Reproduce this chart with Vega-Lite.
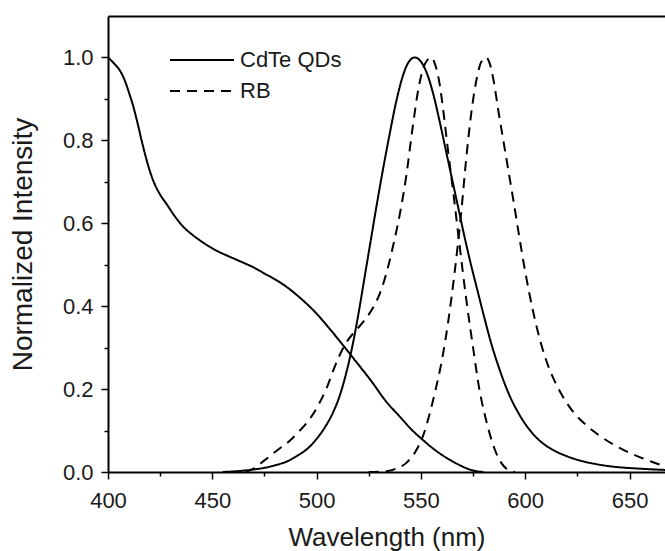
{
  "$schema": "https://vega.github.io/schema/vega-lite/v6.json",
  "width": 557,
  "height": 456,
  "autosize": {"type": "none"},
  "padding": {"left": 108, "top": 16, "right": 0, "bottom": 79},
  "background": "white",
  "config": {
    "view": {"stroke": null},
    "font": "Liberation Sans",
    "axis": {"domainColor": "black", "domainWidth": 2, "tickColor": "black", "tickWidth": 1.5, "labelColor": "#1a1a1a", "labelFont": "Liberation Sans", "labelFontSize": 22, "titleFont": "Liberation Sans", "titleFontWeight": "normal", "titleColor": "#1a1a1a", "titleFontSize": 28, "grid": false},
    "legend": {"orient": "none", "legendX": 77, "legendY": 27, "symbolType": "M-2,0H2", "symbolSize": 1024, "symbolStrokeWidth": 2, "symbolStrokeColor": "black", "symbolFillColor": "transparent", "labelFont": "Liberation Sans", "labelFontSize": 22, "labelColor": "#1a1a1a", "labelOffset": 21, "padding": 0, "rowPadding": 3, "titlePadding": 0}
  },
  "data": {"values": [
    {"curve":"QD abs","type":"CdTe QDs","wl":400,"v":1.0},
    {"curve":"QD abs","type":"CdTe QDs","wl":403,"v":0.985},
    {"curve":"QD abs","type":"CdTe QDs","wl":406,"v":0.966},
    {"curve":"QD abs","type":"CdTe QDs","wl":408,"v":0.945},
    {"curve":"QD abs","type":"CdTe QDs","wl":410,"v":0.916},
    {"curve":"QD abs","type":"CdTe QDs","wl":412,"v":0.884},
    {"curve":"QD abs","type":"CdTe QDs","wl":414,"v":0.845},
    {"curve":"QD abs","type":"CdTe QDs","wl":416,"v":0.802},
    {"curve":"QD abs","type":"CdTe QDs","wl":418,"v":0.762},
    {"curve":"QD abs","type":"CdTe QDs","wl":420,"v":0.727},
    {"curve":"QD abs","type":"CdTe QDs","wl":422,"v":0.699},
    {"curve":"QD abs","type":"CdTe QDs","wl":425,"v":0.669},
    {"curve":"QD abs","type":"CdTe QDs","wl":428,"v":0.647},
    {"curve":"QD abs","type":"CdTe QDs","wl":432,"v":0.617},
    {"curve":"QD abs","type":"CdTe QDs","wl":436,"v":0.592},
    {"curve":"QD abs","type":"CdTe QDs","wl":440,"v":0.574},
    {"curve":"QD abs","type":"CdTe QDs","wl":444,"v":0.559},
    {"curve":"QD abs","type":"CdTe QDs","wl":452,"v":0.534},
    {"curve":"QD abs","type":"CdTe QDs","wl":458,"v":0.52},
    {"curve":"QD abs","type":"CdTe QDs","wl":463,"v":0.509},
    {"curve":"QD abs","type":"CdTe QDs","wl":470,"v":0.493},
    {"curve":"QD abs","type":"CdTe QDs","wl":476,"v":0.476},
    {"curve":"QD abs","type":"CdTe QDs","wl":481,"v":0.462},
    {"curve":"QD abs","type":"CdTe QDs","wl":486,"v":0.445},
    {"curve":"QD abs","type":"CdTe QDs","wl":493,"v":0.416},
    {"curve":"QD abs","type":"CdTe QDs","wl":500,"v":0.382},
    {"curve":"QD abs","type":"CdTe QDs","wl":506,"v":0.347},
    {"curve":"QD abs","type":"CdTe QDs","wl":512,"v":0.31},
    {"curve":"QD abs","type":"CdTe QDs","wl":518,"v":0.272},
    {"curve":"QD abs","type":"CdTe QDs","wl":527,"v":0.214},
    {"curve":"QD abs","type":"CdTe QDs","wl":533,"v":0.172},
    {"curve":"QD abs","type":"CdTe QDs","wl":540,"v":0.133},
    {"curve":"QD abs","type":"CdTe QDs","wl":545,"v":0.105},
    {"curve":"QD abs","type":"CdTe QDs","wl":551,"v":0.077},
    {"curve":"QD abs","type":"CdTe QDs","wl":556,"v":0.056},
    {"curve":"QD abs","type":"CdTe QDs","wl":562,"v":0.035},
    {"curve":"QD abs","type":"CdTe QDs","wl":568,"v":0.018},
    {"curve":"QD abs","type":"CdTe QDs","wl":574,"v":0.005},
    {"curve":"QD abs","type":"CdTe QDs","wl":580,"v":0.0},

    {"curve":"QD PL","type":"CdTe QDs","wl":455,"v":0.0},
    {"curve":"QD PL","type":"CdTe QDs","wl":462,"v":0.002},
    {"curve":"QD PL","type":"CdTe QDs","wl":468,"v":0.005},
    {"curve":"QD PL","type":"CdTe QDs","wl":475,"v":0.01},
    {"curve":"QD PL","type":"CdTe QDs","wl":480,"v":0.016},
    {"curve":"QD PL","type":"CdTe QDs","wl":486,"v":0.026},
    {"curve":"QD PL","type":"CdTe QDs","wl":491,"v":0.04},
    {"curve":"QD PL","type":"CdTe QDs","wl":496,"v":0.058},
    {"curve":"QD PL","type":"CdTe QDs","wl":500,"v":0.08},
    {"curve":"QD PL","type":"CdTe QDs","wl":504,"v":0.108},
    {"curve":"QD PL","type":"CdTe QDs","wl":508,"v":0.145},
    {"curve":"QD PL","type":"CdTe QDs","wl":511,"v":0.183},
    {"curve":"QD PL","type":"CdTe QDs","wl":514,"v":0.235},
    {"curve":"QD PL","type":"CdTe QDs","wl":517,"v":0.3},
    {"curve":"QD PL","type":"CdTe QDs","wl":520,"v":0.38},
    {"curve":"QD PL","type":"CdTe QDs","wl":523,"v":0.47},
    {"curve":"QD PL","type":"CdTe QDs","wl":526,"v":0.56},
    {"curve":"QD PL","type":"CdTe QDs","wl":529,"v":0.65},
    {"curve":"QD PL","type":"CdTe QDs","wl":532,"v":0.735},
    {"curve":"QD PL","type":"CdTe QDs","wl":535,"v":0.815},
    {"curve":"QD PL","type":"CdTe QDs","wl":538,"v":0.89},
    {"curve":"QD PL","type":"CdTe QDs","wl":541,"v":0.95},
    {"curve":"QD PL","type":"CdTe QDs","wl":544,"v":0.988},
    {"curve":"QD PL","type":"CdTe QDs","wl":547,"v":1.0},
    {"curve":"QD PL","type":"CdTe QDs","wl":550,"v":0.99},
    {"curve":"QD PL","type":"CdTe QDs","wl":553,"v":0.96},
    {"curve":"QD PL","type":"CdTe QDs","wl":556,"v":0.91},
    {"curve":"QD PL","type":"CdTe QDs","wl":559,"v":0.845},
    {"curve":"QD PL","type":"CdTe QDs","wl":562,"v":0.775},
    {"curve":"QD PL","type":"CdTe QDs","wl":565,"v":0.705},
    {"curve":"QD PL","type":"CdTe QDs","wl":568,"v":0.635},
    {"curve":"QD PL","type":"CdTe QDs","wl":571,"v":0.565},
    {"curve":"QD PL","type":"CdTe QDs","wl":574,"v":0.5},
    {"curve":"QD PL","type":"CdTe QDs","wl":577,"v":0.44},
    {"curve":"QD PL","type":"CdTe QDs","wl":580,"v":0.38},
    {"curve":"QD PL","type":"CdTe QDs","wl":584,"v":0.305},
    {"curve":"QD PL","type":"CdTe QDs","wl":588,"v":0.243},
    {"curve":"QD PL","type":"CdTe QDs","wl":592,"v":0.19},
    {"curve":"QD PL","type":"CdTe QDs","wl":597,"v":0.14},
    {"curve":"QD PL","type":"CdTe QDs","wl":603,"v":0.096},
    {"curve":"QD PL","type":"CdTe QDs","wl":608,"v":0.071},
    {"curve":"QD PL","type":"CdTe QDs","wl":613,"v":0.054},
    {"curve":"QD PL","type":"CdTe QDs","wl":620,"v":0.038},
    {"curve":"QD PL","type":"CdTe QDs","wl":626,"v":0.028},
    {"curve":"QD PL","type":"CdTe QDs","wl":634,"v":0.019},
    {"curve":"QD PL","type":"CdTe QDs","wl":642,"v":0.013},
    {"curve":"QD PL","type":"CdTe QDs","wl":655,"v":0.008},
    {"curve":"QD PL","type":"CdTe QDs","wl":667,"v":0.005},

    {"curve":"RB abs","type":"RB","wl":466,"v":0.0},
    {"curve":"RB abs","type":"RB","wl":470,"v":0.009},
    {"curve":"RB abs","type":"RB","wl":475,"v":0.028},
    {"curve":"RB abs","type":"RB","wl":481,"v":0.052},
    {"curve":"RB abs","type":"RB","wl":487,"v":0.075},
    {"curve":"RB abs","type":"RB","wl":492,"v":0.1},
    {"curve":"RB abs","type":"RB","wl":497,"v":0.13},
    {"curve":"RB abs","type":"RB","wl":501,"v":0.163},
    {"curve":"RB abs","type":"RB","wl":505,"v":0.205},
    {"curve":"RB abs","type":"RB","wl":509,"v":0.258},
    {"curve":"RB abs","type":"RB","wl":512,"v":0.292},
    {"curve":"RB abs","type":"RB","wl":515,"v":0.318},
    {"curve":"RB abs","type":"RB","wl":518,"v":0.337},
    {"curve":"RB abs","type":"RB","wl":521,"v":0.354},
    {"curve":"RB abs","type":"RB","wl":525,"v":0.38},
    {"curve":"RB abs","type":"RB","wl":528,"v":0.405},
    {"curve":"RB abs","type":"RB","wl":531,"v":0.44},
    {"curve":"RB abs","type":"RB","wl":534,"v":0.49},
    {"curve":"RB abs","type":"RB","wl":537,"v":0.553},
    {"curve":"RB abs","type":"RB","wl":540,"v":0.625},
    {"curve":"RB abs","type":"RB","wl":543,"v":0.715},
    {"curve":"RB abs","type":"RB","wl":546,"v":0.83},
    {"curve":"RB abs","type":"RB","wl":549,"v":0.93},
    {"curve":"RB abs","type":"RB","wl":552,"v":0.985},
    {"curve":"RB abs","type":"RB","wl":555,"v":1.0},
    {"curve":"RB abs","type":"RB","wl":557,"v":0.98},
    {"curve":"RB abs","type":"RB","wl":559,"v":0.935},
    {"curve":"RB abs","type":"RB","wl":561,"v":0.86},
    {"curve":"RB abs","type":"RB","wl":563,"v":0.775},
    {"curve":"RB abs","type":"RB","wl":565.5,"v":0.675},
    {"curve":"RB abs","type":"RB","wl":568.5,"v":0.548},
    {"curve":"RB abs","type":"RB","wl":571.8,"v":0.414},
    {"curve":"RB abs","type":"RB","wl":575,"v":0.3},
    {"curve":"RB abs","type":"RB","wl":578,"v":0.2},
    {"curve":"RB abs","type":"RB","wl":581,"v":0.13},
    {"curve":"RB abs","type":"RB","wl":583.5,"v":0.083},
    {"curve":"RB abs","type":"RB","wl":586,"v":0.047},
    {"curve":"RB abs","type":"RB","wl":588.5,"v":0.022},
    {"curve":"RB abs","type":"RB","wl":591,"v":0.008},
    {"curve":"RB abs","type":"RB","wl":595,"v":0.0},

    {"curve":"RB PL","type":"RB","wl":525,"v":0.0},
    {"curve":"RB PL","type":"RB","wl":533.5,"v":0.002},
    {"curve":"RB PL","type":"RB","wl":538,"v":0.008},
    {"curve":"RB PL","type":"RB","wl":543,"v":0.022},
    {"curve":"RB PL","type":"RB","wl":547,"v":0.046},
    {"curve":"RB PL","type":"RB","wl":551,"v":0.087},
    {"curve":"RB PL","type":"RB","wl":554,"v":0.137},
    {"curve":"RB PL","type":"RB","wl":557,"v":0.198},
    {"curve":"RB PL","type":"RB","wl":560,"v":0.268},
    {"curve":"RB PL","type":"RB","wl":563,"v":0.36},
    {"curve":"RB PL","type":"RB","wl":566,"v":0.475},
    {"curve":"RB PL","type":"RB","wl":569,"v":0.61},
    {"curve":"RB PL","type":"RB","wl":572,"v":0.77},
    {"curve":"RB PL","type":"RB","wl":574.5,"v":0.88},
    {"curve":"RB PL","type":"RB","wl":577,"v":0.955},
    {"curve":"RB PL","type":"RB","wl":579,"v":0.99},
    {"curve":"RB PL","type":"RB","wl":581.3,"v":1.0},
    {"curve":"RB PL","type":"RB","wl":583,"v":0.985},
    {"curve":"RB PL","type":"RB","wl":585,"v":0.94},
    {"curve":"RB PL","type":"RB","wl":587,"v":0.875},
    {"curve":"RB PL","type":"RB","wl":589.5,"v":0.8},
    {"curve":"RB PL","type":"RB","wl":592,"v":0.725},
    {"curve":"RB PL","type":"RB","wl":594.5,"v":0.65},
    {"curve":"RB PL","type":"RB","wl":597,"v":0.572},
    {"curve":"RB PL","type":"RB","wl":599.5,"v":0.497},
    {"curve":"RB PL","type":"RB","wl":602,"v":0.43},
    {"curve":"RB PL","type":"RB","wl":605,"v":0.36},
    {"curve":"RB PL","type":"RB","wl":608,"v":0.302},
    {"curve":"RB PL","type":"RB","wl":611,"v":0.256},
    {"curve":"RB PL","type":"RB","wl":614.5,"v":0.215},
    {"curve":"RB PL","type":"RB","wl":618.5,"v":0.178},
    {"curve":"RB PL","type":"RB","wl":623,"v":0.145},
    {"curve":"RB PL","type":"RB","wl":629,"v":0.114},
    {"curve":"RB PL","type":"RB","wl":635,"v":0.09},
    {"curve":"RB PL","type":"RB","wl":642,"v":0.067},
    {"curve":"RB PL","type":"RB","wl":648,"v":0.051},
    {"curve":"RB PL","type":"RB","wl":654.8,"v":0.036},
    {"curve":"RB PL","type":"RB","wl":661,"v":0.024},
    {"curve":"RB PL","type":"RB","wl":667,"v":0.014}
  ]},
  "layer": [
    {
      "mark": {"type": "line", "strokeWidth": 2, "color": "black", "clip": true, "interpolate": "monotone"},
      "encoding": {
        "x": {"field": "wl", "type": "quantitative", "scale": {"domain": [400, 667], "nice": false, "zero": false},
              "axis": {"orient": "bottom", "title": "Wavelength (nm)", "titleFontSize": 26, "values": [400, 450, 500, 550, 600, 650], "format": "d", "tickSize": 7, "labelPadding": 11, "titlePadding": 13, "labelFlush": false}},
        "y": {"field": "v", "type": "quantitative", "scale": {"domain": [0, 1.1], "nice": false},
              "axis": {"orient": "left", "title": "Normalized Intensity", "values": [0, 0.2, 0.4, 0.6, 0.8, 1.0], "format": ".1f", "tickSize": 7, "labelPadding": 8, "titlePadding": 25, "labelFlush": false}},
        "strokeDash": {"field": "type", "type": "nominal", "scale": {"domain": ["CdTe QDs", "RB"], "range": [[1, 0], [10, 7]]}, "legend": {"title": null}},
        "detail": {"field": "curve", "type": "nominal"}
      }
    },
    {
      "mark": {"type": "line", "strokeOpacity": 0},
      "encoding": {
        "x": {"field": "wl", "type": "quantitative", "axis": {"orient": "bottom", "title": null, "labels": false, "domain": false, "values": [425, 475, 525, 575, 625], "tickSize": 4}},
        "y": {"field": "v", "type": "quantitative", "axis": {"orient": "left", "title": null, "labels": false, "domain": false, "values": [0.1, 0.3, 0.5, 0.7, 0.9], "tickSize": 4}},
        "detail": {"field": "curve", "type": "nominal"}
      }
    },
    {
      "mark": {"type": "line", "strokeOpacity": 0},
      "encoding": {
        "x": {"field": "wl", "type": "quantitative", "axis": {"orient": "top", "title": null, "labels": false, "ticks": false, "domain": true}},
        "y": {"field": "v", "type": "quantitative", "axis": null},
        "detail": {"field": "curve", "type": "nominal"}
      }
    }
  ],
  "resolve": {"axis": {"x": "independent", "y": "independent"}}
}
